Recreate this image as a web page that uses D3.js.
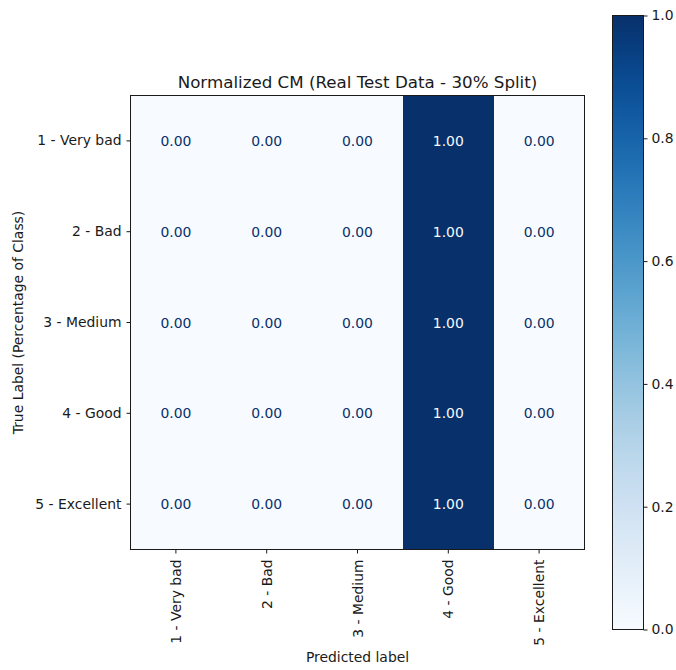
<!DOCTYPE html>
<html>
<head>
<meta charset="utf-8">
<script src="https://cdn.jsdelivr.net/npm/d3@7"></script>
<style>
  html, body { margin: 0; padding: 0; background: #fff; }
  svg { display: block; }
  svg text { font-family: "DejaVu Sans", sans-serif; }
</style>
</head>
<body>
<svg id="chart" width="676" height="670"></svg>
<script>
// Class names shared by both axes
const trueLabels = ["1 - Very bad", "2 - Bad", "3 - Medium", "4 - Good", "5 - Excellent"];
const predLabels = ["1 - Very bad", "2 - Bad", "3 - Medium", "4 - Good", "5 - Excellent"];

// Row-normalized confusion matrix (rows = true class, columns = predicted class)
const row1 = [0, 0, 0, 1, 0];
const row2 = [0, 0, 0, 1, 0];
const row3 = [0, 0, 0, 1, 0];
const row4 = [0, 0, 0, 1, 0];
const row5 = [0, 0, 0, 1, 0];
const matrix = [row1, row2, row3, row4, row5];

const colorbarTicks = [0.0, 0.2, 0.4, 0.6, 0.8, 1.0];

const titleText = "Normalized CM (Real Test Data - 30% Split)";
const xLabelText = "Predicted label";
const yLabelText = "True Label (Percentage of Class)";

const FONT = "DejaVu Sans";
const INK = "#1a1a1a";
const TICK_FS = "13.9px";

const svg = d3.select("#chart");

const plot = { left: 130.5, top: 95.5, size: 454 };
const cbar = { left: 612.5, top: 15.5, width: 31, height: 614 };

const x = d3.scaleBand().domain(predLabels).range([plot.left, plot.left + plot.size]);
const y = d3.scaleBand().domain(trueLabels).range([plot.top, plot.top + plot.size]);
const color = d3.scaleSequential(d3.interpolateBlues).domain([0, 1]);

const cells = [];
matrix.forEach((row, i) => row.forEach((v, j) => cells.push({ t: trueLabels[i], p: predLabels[j], v })));

// Heatmap cells
svg.append("g").selectAll("rect").data(cells).join("rect")
  .attr("x", d => x(d.p))
  .attr("y", d => y(d.t))
  .attr("width", x.bandwidth())
  .attr("height", y.bandwidth())
  .attr("fill", d => color(d.v))
  .attr("shape-rendering", "crispEdges");

// Cell annotations: light text on dark cells, dark text on light cells
svg.append("g").selectAll("text").data(cells).join("text")
  .attr("x", d => x(d.p) + x.bandwidth() / 2)
  .attr("y", d => y(d.t) + y.bandwidth() / 2)
  .attr("text-anchor", "middle")
  .attr("dominant-baseline", "central")
  .attr("font-family", FONT)
  .attr("font-size", TICK_FS)
  .attr("fill", d => d.v > 0.5 ? color(0) : color(1))
  .text(d => d3.format(".2f")(d.v));

// Frame around plot area
svg.append("rect")
  .attr("x", plot.left).attr("y", plot.top)
  .attr("width", plot.size).attr("height", plot.size)
  .attr("fill", "none").attr("stroke", INK).attr("stroke-width", 1);

// Axes
const xAxis = svg.append("g")
  .attr("transform", `translate(0,${plot.top + plot.size})`)
  .call(d3.axisBottom(x).tickSize(4).tickPadding(4));
xAxis.select(".domain").remove();
xAxis.selectAll("text")
  .attr("font-family", FONT)
  .attr("font-size", TICK_FS)
  .attr("fill", INK)
  .attr("text-anchor", "end")
  .attr("dy", null)
  .attr("dominant-baseline", "central")
  .attr("transform", "translate(0,10) rotate(-90)")
  .attr("x", 0).attr("y", 0);

const yAxis = svg.append("g")
  .attr("transform", `translate(${plot.left},0)`)
  .call(d3.axisLeft(y).tickSize(4).tickPadding(5));
yAxis.select(".domain").remove();
yAxis.selectAll("text").attr("font-family", FONT).attr("font-size", TICK_FS).attr("fill", INK);
svg.selectAll(".tick line").attr("stroke", INK);

// Title and axis labels
svg.append("text")
  .attr("x", plot.left + plot.size / 2).attr("y", 87.5)
  .attr("text-anchor", "middle").attr("font-family", FONT).attr("font-size", "16.7px").attr("fill", INK)
  .text(titleText);

svg.append("text")
  .attr("x", plot.left + plot.size / 2).attr("y", 662)
  .attr("text-anchor", "middle").attr("font-family", FONT).attr("font-size", TICK_FS).attr("fill", INK)
  .text(xLabelText);

svg.append("text")
  .attr("transform", `translate(23,${plot.top + plot.size / 2}) rotate(-90)`)
  .attr("text-anchor", "middle").attr("font-family", FONT).attr("font-size", TICK_FS).attr("fill", INK)
  .text(yLabelText);

// Colorbar
const defs = svg.append("defs");
const grad = defs.append("linearGradient").attr("id", "cbGrad")
  .attr("x1", 0).attr("y1", 1).attr("x2", 0).attr("y2", 0);
d3.range(0, 1.0001, 0.05).forEach(t => {
  grad.append("stop").attr("offset", t).attr("stop-color", color(t));
});

svg.append("rect")
  .attr("x", cbar.left).attr("y", cbar.top)
  .attr("width", cbar.width).attr("height", cbar.height)
  .attr("fill", "url(#cbGrad)")
  .attr("stroke", INK).attr("stroke-width", 1);

const cScale = d3.scaleLinear().domain([0, 1]).range([cbar.top + cbar.height, cbar.top]);
const cAxis = svg.append("g")
  .attr("transform", `translate(${cbar.left + cbar.width},0)`)
  .call(d3.axisRight(cScale).tickValues(colorbarTicks).tickFormat(d3.format(".1f")).tickSize(4).tickPadding(4));
cAxis.select(".domain").remove();
cAxis.selectAll("text").attr("font-family", FONT).attr("font-size", TICK_FS).attr("fill", INK);
cAxis.selectAll("line").attr("stroke", INK);
</script>
</body>
</html>
